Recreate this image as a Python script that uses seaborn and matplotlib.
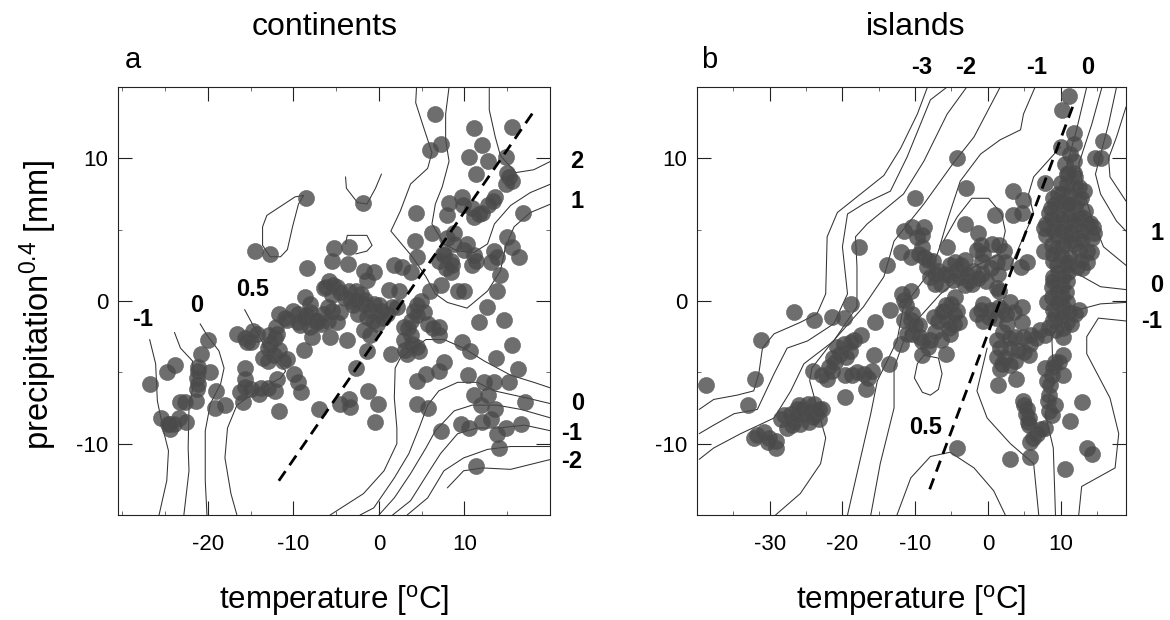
import matplotlib
matplotlib.use('Agg')
import matplotlib.pyplot as plt
import seaborn as sns
from matplotlib.ticker import MultipleLocator

# Values: temperature [C], precipitation^0.4 [mm]
cont_temp = [6.6, 11.1, 15.6, 7.2, 6.0, 12.1, 10.5, 12.7, 14.8, 11.3, 15.2, 14.8, 13.6, 12.7, 11.7, 10.9, 9.7, 8.2, 8.0, 4.3, 16.8,
             -1.9, -8.5, -14.5, -12.7, -3.5, -5.3, -5.5, -3.6, -8.4, 6.2, 8.8, 8.0, 10.3, 4.2, 4.4, 15.0, 15.6, 16.4, 13.4, 13.1,
             11.1, 10.9, 7.6, 7.0, 8.4, 8.4, 1.8, 2.7, 3.7, -1.8, -0.6, -1.4, -5.8, -6.4, -4.9, -2.7, 1.2, 2.3, 6.0, 7.3, 9.2, 9.9,
             14.2, 13.8, 12.6, 11.7, 14.6, 15.5, 9.7, 10.7, 13.7, 16.3, 15.2, 10.4, 12.3, 13.4, 17.1, 11.1, 12.7, 11.9, 13.6, 13.1,
             12.1, 9.6, 10.5, 7.3, 14.8, 13.8, 16.6, 14.0, 11.4, 7.6, 7.0, 5.5, 4.5, 4.5, 5.7,
             4.9, 4.1, 5.3, 2.9, 3.7, 5.7, 7.0, 7.0, 3.7, 3.1, 4.7, 3.9, 1.4, -1.4, -1.8, -1.0, -3.7, -5.7, -7.8, -8.8, -8.6, -8.0,
             -9.4, -8.5, -7.5, -11.7, -10.7, -9.2, -8.0, -6.5, -5.5, -4.5, -4.9, -6.0, -7.2, -3.3, -2.1, -1.8, -0.6, 0.2, -2.5, -1.4,
             -0.2, 1.0, 2.1, -11.9, -12.7, -12.2, -13.6, -12.3, -10.7, -14.2, -16.6, -15.4, -9.9, -9.4, -9.1, -11.9, -12.2, -13.8,
             -15.6, -15.6, -16.2, -15.0, -15.9, -11.7, -7.0, -4.5, -3.5, -3.4, -1.3, -0.1, -0.4, -2.7, -20.0, -20.8, -21.2, -19.7,
             -21.3, -21.3, -21.4, -23.2, -19.1, -19.2, -18.0, -23.8, -24.8, -26.8, -25.5, -23.4, -22.5, -24.4, -24.7]
cont_prec = [13.1, 12.1, 12.2, 11.0, 10.6, 10.9, 10.1, 9.8, 10.1, 8.9, 8.7, 8.2, 7.3, 6.7, 6.1, 6.5, 7.3, 6.9, 6.0, 6.2, 6.2,
             6.9, 7.2, 3.5, 3.3, 3.8, 3.7, 2.8, 2.6, 2.3, 4.8, 4.8, 4.4, 4.0, 4.2, 3.1, 4.5, 3.8, 3.1, 3.5, 2.7,
             3.2, 2.5, 3.2, 2.8, 2.8, 2.0, 2.5, 2.4, 2.0, 2.1, 2.0, 1.5, 1.4, 0.9, 1.0, 0.7, 0.8, 0.7, 0.7, 1.1, 0.7, 0.7,
             1.8, 0.7, -0.4, -1.5, -1.3, -3.1, -2.9, -3.5, -4.0, -4.8, -5.7, -5.2, -5.7, -5.7, -7.1, -6.6, -6.6, -7.3, -7.6, -8.3,
             -8.5, -8.6, -8.9, -9.1, -8.9, -9.3, -8.6, -10.3, -11.6, -4.3, -4.9, -5.1, -5.6, -7.2, -7.5,
             0.0, -0.7, -0.8, -1.8, -1.4, -1.6, -1.8, -2.4, -2.4, -3.4, -3.5, -3.0, -3.7, -3.5, -2.0, -2.4, -2.7, -2.5, -2.5, -3.4, 0.3, -0.2,
             -0.9, -1.0, -1.4, -0.9, -1.3, -1.7, -1.8, -0.9, -0.7, -0.8, -1.5, -1.4, -1.5, 0.0, 0.5, -0.2, -0.2, -0.7, -0.9, -1.1,
             -1.6, -0.9, -0.4, -2.3, -3.0, -2.6, -4.0, -3.8, -4.1, -2.3, -2.3, -2.9, -5.1, -5.7, -6.4, -5.5, -6.3, -6.1,
             -4.7, -5.5, -6.4, -6.2, -7.1, -7.7, -7.6, -7.2, -6.9, -7.4, -6.3, -7.2, -8.5, -4.7, -2.7, -3.7, -4.6, -5.0,
             -5.4, -6.2, -7.0, -7.1, -6.3, -7.5, -7.3, -4.5, -5.0, -5.8, -8.2, -8.2, -8.5, -9.0, -8.6]
# the denser patches of the continents cloud
cont_temp_dense = [-11.0, -10.0, -9.5, -8.8, -8.0, -7.4, -6.8, -6.0, -5.5, -6.2, -5.4, -4.5, -4.0, -3.5, -3.0, -2.7, -1.6, -1.0, 0.0, 0.5,
                   -0.7, 1.5, -12.8, -12.0, -13.0, -11.7, -11.2, -13.0, -15.7, -15.0, -14.7, 4.4, 4.5, 3.4, 2.9, 3.3, 4.4, 6.3, 7.5, 7.8,
                   8.6, 10.0, 11.4, 13.8, 8.8, 9.8, 12.0, 11.1, 13.3, 15.0, 15.5, -15.6, -14.0, -13.0, -21.2, -21.2, -24.5, -23.9, -22.7]
cont_prec_dense = [-1.2, -0.7, -1.5, -1.2, -0.8, -1.3, -1.6, -0.4, 0.4, 1.0, 1.1, 0.6, 0.2, 0.7, -0.3, 0.1, 0.1, -0.6, -0.3, -1.2,
                   -1.4, -0.4, -2.4, -1.8, -3.3, -3.4, -4.2, -4.2, -2.6, -2.9, -2.1, -0.3, -1.0, -1.9, -2.7, -3.7, -3.2, -1.9, 3.3, 2.3,
                   2.5, 3.6, 2.8, 3.1, 4.0, 6.7, 6.2, 5.9, 7.0, 9.0, 8.4, -6.0, -6.5, -6.1, -4.9, -5.8, -8.6, -8.6, -7.1]

isl_temp = [11.1, 10.2, 11.9, 15.9, 15.5, 14.8, -4.2, -3.0, -10.0, -17.7, -13.9, -26.6, -23.9, -21.4, -19.8, -18.8, -31.2, -32.0, -38.7, -33.0,
            -28.5, -27.6, -26.7, -25.9, -27.1, -26.0, -24.8, -25.1, -23.7, -22.8, -23.9, -23.2, -24.6, -26.2,
            -32.2, -30.8, -30.1, -29.2, -29.2,
            -24.0, -22.1, -21.4, -21.0, -20.3, -19.8, -18.9, -18.4, -17.5, -19.6, -16.7, -18.7, -17.1, -15.9, -15.7, -13.6, -15.5, -13.4,
            -12.0, -11.6, -11.8, -10.6, -11.6, -10.6, -11.1, -9.3, -9.0, -5.7, -7.9, -6.5, -5.2, -7.4, -5.6, -4.2, -4.5, -6.0, -4.7,
            -11.6, -10.4, -8.8, -9.7, -9.0, -12.0, -10.6, -8.8, -8.4, -7.9, -7.2, -6.8, -5.2, -4.2, -3.1, -3.8, -2.6, -2.0, -0.8, -1.5, -0.6, 0.6, 2.2, 2.4,
            -5.6, -3.2, -1.3, 1.0, 3.5, 4.7, 3.5, 4.8, 7.9, 5.4, 4.5, 7.7, 9.0,
            1.5, -0.6, -1.5, 0.1, 1.5, 3.1, 4.7, 4.7, 2.6, 3.8, 4.9, 1.7, 2.4, 3.8, 5.6, 5.8, 7.2, 1.7, 1.4, 3.9,
            11.8, 11.3, 10.6, 11.8, 10.9, 12.0, 10.9, 13.2, 9.7, 11.1, 12.2, 9.3, 10.6, 12.0, 13.4, 8.4, 9.7, 11.1, 12.5, 9.3, 10.6, 12.0, 13.6, 7.7,
            14.5, 9.5, 10.9, 12.5, 14.3, 8.8, 10.4, 11.8, 13.6, 10.0, 11.1, 13.6, 9.5, 10.9, 12.2, 9.0, 10.4, 8.8, 10.2, 8.8, 10.2, 8.1, 9.0, 10.4, 9.0, 12.0,
            10.9, 10.4, 8.4, 10.4, 9.3, 7.9, 10.4, 8.8, 8.6, 8.4, 9.3, 8.4, 12.9, 11.3, 7.9, 6.8, 5.8, 5.8, 4.9, 5.4, 5.6, 5.7, 3.1, 10.6, 13.6, 14.3, -4.2]
isl_prec = [14.4, 13.4, 11.8, 11.2, 10.0, 10.0, 10.0, 7.9, 7.2, 3.8, 2.5, -0.8, -1.3, -1.1, -1.2, -0.2, -2.7, -5.5, -5.9, -7.3,
            -8.3, -8.9, -8.4, -8.6, -7.9, -7.3, -7.2, -7.9, -7.9, -7.6, -7.2, -8.3, -8.5, -7.6,
            -9.6, -9.2, -9.6, -9.8, -10.3,
            -4.9, -5.5, -4.9, -4.3, -3.7, -3.0, -3.5, -2.7, -2.4, -6.7, -6.2, -5.2, -5.1, -4.9, -3.8, -4.4, -1.5, -0.6,
            -3.0, -1.3, 0.5, 0.7, 0.1, -1.3, -2.3, -2.5, -3.8, -3.7, -2.7, -2.7, -2.3, -1.1, -1.3, -0.7, 0.3, -0.7, -1.6,
            4.9, 5.2, 5.2, 4.5, 3.8, 3.4, 3.1, 3.1, 2.4, 1.7, 1.2, 2.1, 2.5, 2.2, 2.9, 1.7, 1.4, 2.1, 1.9, 3.6, 3.3, 4.0, 3.5, 2.7,
            3.8, 5.4, 4.8, 6.0, 6.0, 6.2, 7.7, 7.1, 8.3, 2.7, 2.4, 3.5, 2.8,
            0.7, -0.2, -0.9, -1.1, -0.4, -0.1, -0.4, -1.5, -1.6, -2.5, -2.5, -3.3, -4.0, -4.2, -3.8, -3.0, -2.0, -4.8, -5.9, -5.5,
            11.0, 10.3, 9.6, 9.8, 8.9, 8.7, 8.2, 7.7, 7.5, 7.4, 7.0, 6.8, 6.7, 6.6, 6.3, 6.2, 6.0, 6.0, 5.9, 5.4, 5.3, 5.3, 5.4, 5.1,
            5.2, 4.6, 4.6, 4.5, 4.4, 3.9, 3.9, 4.0, 3.5, 3.2, 3.1, 2.7, 2.5, 2.5, 2.4, 1.7, 1.7, 1.0, 1.0, 0.3, 0.3, -0.1, -0.6, -0.4, -1.3, -0.9,
            -1.5, -2.5, -1.8, -3.8, -4.3, -4.7, -5.2, -5.2, -5.9, -6.6, -7.3, -7.7, -7.1, -8.4, -8.9, -9.3, -9.9, -10.9, -7.0, -7.6, -8.2, -8.7, -11.1, -11.8, -10.3, -10.7, -10.3]
# the denser patches of the islands cloud
isl_temp_dense = [10.0, 11.0, 11.8, 10.0, 11.8, 12.5, 10.2, 12.8, 9.0, 10.0, 11.2, 8.7, 13.0, 8.8, 10.2, 11.7, 8.0, 14.0, 9.0, 10.0, 11.3, 12.9, 14.6, 8.0,
                  11.3, 13.0, 9.5, 12.6, 14.2, 9.0, 10.9, 12.8, 13.0, 9.7, 11.0, 9.7, 10.9, 8.9, 9.5, 10.8, 9.5, 10.9, 9.3, 10.0, 11.2, 12.6, 10.3, 11.5, 9.4,
                  7.8, 6.6, 8.9, 9.8, 8.1,
                  -9.0, -9.5, -8.2, -7.6, -7.2, -6.5, -6.0, -5.5, -4.8, -4.5, -3.7, -2.9, -3.2, -2.2, -1.3, -0.3, 0.5, 1.2, -1.0, -0.8, 1.6, 1.2, 1.4,
                  -11.2, -10.4, -10.0, -10.5, -9.4, -9.0, -8.2, -7.2, -6.9, -6.3, -5.8, -5.0, -5.3, -4.6, -4.0, 0.4, 1.1, 2.0, 2.5, 3.6, 2.1, 1.3, 3.0, 2.9,
                  4.2, 5.0, 5.9, 1.2, 3.0, 2.0, -0.7, -1.0,
                  -21.9, -21.3, -20.8, -19.5, -18.8, -22.8, -19.7, -18.0, -16.5, -28.0, -27.0, -26.3, -25.5, -24.4, -24.0, -23.2, -30.3, -31.7,
                  5.0, 5.2, 5.5, 6.2, 7.3, 8.3, 8.8]
isl_prec_dense = [10.8, 9.0, 9.0, 8.3, 8.0, 8.0, 7.6, 7.2, 7.2, 7.0, 6.8, 6.5, 5.9, 5.8, 5.8, 5.7, 5.4, 5.5, 5.0, 4.9, 4.9, 5.0, 4.8, 4.6,
                  4.2, 4.3, 3.8, 3.6, 3.4, 3.3, 2.7, 2.9, 2.3, 2.0, 2.0, 1.3, 1.4, 1.4, 0.7, 0.6, -0.1, -0.1, -1.0, -1.1, -0.8, -0.6, -1.9, -1.6, -2.0,
                  -2.4, -2.6, -4.6, -4.3, -5.6,
                  4.6, 3.3, 2.9, 2.8, 1.9, 1.2, 1.9, 1.8, 1.5, 2.7, 2.5, 1.9, 1.1, 1.2, 1.6, 1.4, 2.3, 2.7, 3.9, 2.8, 3.9, 0.9, 1.9,
                  -0.3, -0.9, -1.7, -2.3, -1.7, -2.8, -3.2, -2.2, -1.4, -0.8, -0.3, -0.2, -1.9, -0.9, -1.5, -0.6, -1.2, -0.6, -0.9, -0.8, -2.2, -2.7, -3.3, -2.6,
                  -3.4, -3.6, -2.4, -3.9, -4.5, -4.4, -1.4, -0.6,
                  -4.6, -4.0, -3.2, -3.9, -2.9, -5.2, -5.2, -5.0, -5.4, -8.0, -8.7, -8.0, -7.6, -7.7, -8.1, -7.6, -9.9, -9.4,
                  -7.3, -7.9, -8.5, -9.6, -9.0, -7.0, -8.0]

# contour lines, one list per line
cont_line_t = [
    [-26.8, -26.1, -25.9, -25.1, -24.6, -24.8, -25.7],
    [-23.9, -23.2, -21.8, -21.6, -22.2, -22.3, -22.2, -22.8],
    [-20.9, -20.1, -18.7, -18.1, -18.5, -19.7, -20.3, -20.3, -20.1],
    [-15.7, -14.8, -13.5, -12.3, -10.9, -11.5, -14.2, -16.6, -17.7, -18.0, -17.3, -16.6],
    [-8.8, -9.8, -13.1, -13.6, -13.6, -12.7, -11.5, -10.7, -10.1, -9.4, -8.8],
    [-3.9, -3.8, -2.5, -1.4, -0.4, 0.3],
    [-3.9, -3.7, -1.4, -0.8, -1.4, -2.7],
    [12.9, 12.9, 13.6, 14.2, 16.0, 18.1, 20.1],
    [8.2, 7.8, 7.8, 8.2, 7.4, 6.6, 6.2, 7.6, 9.2, 11.1, 12.7, 13.5, 15.4, 17.7, 20.1],
    [20.1, 17.7, 15.8, 14.8, 14.2, 12.7, 10.3, 8.0, 6.6, 5.5, 3.9, 1.4, 2.5, 3.7, 5.7, 6.2, 5.1, 4.3, 4.4],
    [20.1, 18.1, 15.4, 12.3, 9.9, 7.6, 5.5, 2.5, 1.9, 1.8, 2.1, 2.1, 0.6, -1.8, -5.7],
    [20.1, 17.3, 13.5, 11.5, 9.2, 7.0, 5.7, 4.7, 3.5, 1.8, -0.6, -2.2],
    [20.1, 16.6, 13.8, 10.9, 8.8, 6.6, 5.5, 3.7, 1.8, 0.0],
    [20.1, 17.0, 14.0, 11.5, 9.2, 7.2, 5.7, 3.7, 1.6],
    [20.1, 15.4, 12.7, 9.9, 7.6, 5.7, 3.3],
    [20.1, 15.4, 12.1, 9.9, 8.0],
]
cont_line_p = [
    [-2.7, -4.4, -7.0, -9.3, -10.5, -12.6, -15.0],
    [-2.2, -3.3, -4.2, -5.6, -7.5, -10.3, -11.9, -15.0],
    [-1.6, -2.4, -3.5, -4.7, -5.8, -7.2, -9.1, -12.6, -15.0],
    [-0.6, -1.6, -3.0, -4.0, -4.9, -5.4, -6.3, -7.3, -8.9, -11.0, -13.5, -15.0],
    [7.4, 7.3, 6.0, 5.2, 3.9, 3.1, 3.1, 3.6, 5.2, 6.8, 7.4],
    [8.7, 7.9, 6.9, 6.8, 7.9, 8.9],
    [4.0, 4.6, 4.6, 3.9, 3.5, 3.3],
    [14.9, 13.4, 11.5, 10.2, 9.0, 9.2, 9.8],
    [15.0, 13.1, 11.3, 9.8, 8.0, 6.8, 5.4, 4.0, 3.5, 3.4, 4.0, 5.4, 6.7, 7.6, 8.2],
    [6.8, 6.2, 5.2, 3.8, 2.1, 0.7, -0.5, -0.1, 0.5, 1.7, 3.1, 4.9, 6.3, 8.2, 9.3, 10.4, 12.4, 13.9, 15.0],
    [-6.1, -5.7, -5.2, -4.2, -3.3, -2.7, -2.7, -4.0, -4.7, -6.8, -8.9, -10.0, -11.9, -13.5, -15.0],
    [-7.2, -6.8, -6.3, -5.7, -5.7, -6.3, -7.3, -8.9, -10.7, -12.4, -14.5, -15.0],
    [-8.2, -7.6, -7.3, -7.3, -7.7, -9.1, -10.3, -12.1, -13.8, -15.0],
    [-9.1, -8.7, -8.9, -8.9, -9.3, -10.7, -12.1, -14.0, -15.0],
    [-10.2, -10.2, -10.4, -11.0, -11.9, -13.8, -15.0],
    [-11.1, -11.8, -11.7, -11.9, -13.1],
]
isl_line_t = [
    [-39.7, -37.7, -34.5, -32.2, -31.5, -31.0, -29.4, -25.8, -23.5, -22.3, -22.1, -20.7, -17.5, -14.3, -12.0, -9.7, -8.3],
    [-39.7, -37.7, -34.9, -31.7, -29.4, -27.6, -24.8, -21.2, -19.3, -20.0, -19.3, -17.1, -13.4, -11.1, -7.9, -5.6],
    [-39.7, -37.7, -34.0, -29.4, -27.1, -25.3, -21.2, -18.0, -18.0, -18.2, -16.6, -11.6, -8.8, -5.6, -2.9],
    [-29.2, -25.8, -23.0, -22.3, -24.5, -24.2, -21.6, -17.1, -14.3, -12.9, -8.8, -4.7, -1.9, 1.7],
    [6.5, 4.9, 4.5, 1.7, -1.0, -3.8, -5.6, -6.8, -7.9, -11.6, -12.5, -15.2, -16.1, -18.0, -19.3],
    [-16.1, -14.8, -12.9, -12.9, -11.1, -6.5, -1.9, 1.7, 2.4, 1.9, 0.1, -2.2, -4.2, -6.1],
    [-12.5, -10.6, -7.9, -5.2, -1.9, 0.8, 2.4],
    [-8.8, -6.8, -6.3, -6.8, -7.9, -9.0, -10.1, -9.7, -8.8],
    [7.0, 6.3, 3.1, -0.1, -1.5, -0.1],
    [13.6, 12.2, 10.9, 10.6, 10.6, 10.9, 8.8, 9.0, 7.9, 9.0, 9.3],
    [15.7, 14.3, 12.5, 13.2, 14.1, 15.9, 19.0],
    [17.7, 16.6, 14.8, 15.5, 17.7, 19.0],
    [19.0, 17.7, 16.6, 16.8, 19.0],
    [12.7, 15.5, 19.0],
    [19.0, 15.5, 11.8, 9.5],
    [19.0, 15.2, 13.6, 13.6, 16.8, 18.0, 17.5, 12.9, 12.5],
    [10.0, 6.3, 5.6, 6.3, 4.9, 3.1],
]
isl_line_p = [
    [-7.6, -6.9, -6.6, -6.3, -5.1, -3.3, -2.3, -1.5, -0.9, 0.5, 4.5, 6.2, 7.5, 8.8, 10.7, 13.1, 15.0],
    [-9.3, -8.7, -7.9, -7.6, -5.1, -3.3, -2.8, -1.6, 0.5, 3.8, 6.1, 6.8, 7.7, 10.1, 14.1, 15.0],
    [-11.1, -10.3, -9.3, -8.2, -6.3, -4.4, -2.8, -0.4, 2.4, 4.5, 5.4, 7.5, 9.8, 13.1, 15.0],
    [-15.0, -13.5, -11.4, -9.6, -5.6, -4.7, -3.0, -0.4, 1.7, 4.2, 6.8, 9.7, 11.5, 15.0],
    [15.0, 13.1, 12.0, 11.3, 10.3, 8.4, 5.6, 3.5, 2.1, -0.4, -2.8, -5.6, -7.9, -12.1, -15.0],
    [-15.0, -11.4, -7.5, -4.7, -2.1, 0.5, 2.4, 3.3, 4.9, 6.1, 7.2, 7.2, 5.9, 4.2],
    [-15.0, -12.4, -10.9, -10.6, -11.7, -13.3, -15.0],
    [-3.8, -4.0, -5.1, -6.2, -6.6, -6.4, -5.4, -4.4, -3.8],
    [-15.0, -11.4, -10.0, -8.2, -6.3, -3.3],
    [15.0, 12.0, 9.6, 6.1, 2.6, -0.9, -2.5, -5.6, -7.9, -10.3, -15.0],
    [15.0, 12.4, 9.6, 7.7, 6.1, 3.8, 2.5],
    [15.0, 12.4, 8.9, 7.5, 5.6, 4.9],
    [13.6, 11.5, 10.0, 8.7, 7.0],
    [1.8, 1.0, 0.8],
    [-0.1, -0.2, -0.7, -1.8],
    [-1.4, -1.2, -2.5, -3.7, -6.8, -9.3, -11.7, -13.0, -15.0],
    [10.8, 8.7, 7.5, 6.1, 4.5, 2.4],
]

# dashed trend lines
cont_trend_t = [-11.7, 18.0]
cont_trend_p = [-12.6, 13.2]
isl_trend_t = [-8.0, 11.8]
isl_trend_p = [-13.2, 13.8]

x_ticks_cont = [-20, -10, 0, 10]
x_ticks_isl = [-30, -20, -10, 0, 10]
y_ticks = [-10, 0, 10]

sns.set_style("ticks")
plt.rcParams['font.family'] = ['Liberation Sans', 'DejaVu Sans']
plt.rcParams['mathtext.default'] = 'regular'
plt.rcParams['axes.unicode_minus'] = False
plt.rcParams['text.color'] = 'black'
plt.rcParams['axes.labelcolor'] = 'black'
plt.rcParams['xtick.labelcolor'] = 'black'
plt.rcParams['ytick.labelcolor'] = 'black'


def draw_panel(ax, temp, prec, line_t, line_p, trend_t, trend_p, xlim, xticks):
    # contours go under the dots
    for t, p in zip(line_t, line_p):
        sns.lineplot(x=t, y=p, ax=ax, sort=False, estimator=None, color='#333333', lw=0.75, zorder=1)
    sns.scatterplot(x=temp, y=prec, ax=ax, s=135, color='#4a4a4a', alpha=0.8, edgecolor='#555555',
                    linewidth=0.4, zorder=2, clip_on=False)
    sns.lineplot(x=trend_t, y=trend_p, ax=ax, sort=False, estimator=None, color='black', lw=2,
                 dashes=(4.2, 2.6), zorder=3)
    ax.set_xlim(*xlim)
    ax.set_ylim(-15, 15)
    ax.set_xticks(xticks)
    ax.set_yticks(y_ticks)
    ax.xaxis.set_minor_locator(MultipleLocator(5))
    ax.yaxis.set_minor_locator(MultipleLocator(5))
    ax.tick_params(which='major', direction='in', top=True, right=True, length=10, width=0.8,
                   labelsize=16, color='#222222')
    ax.tick_params(axis='x', which='major', pad=14)
    ax.tick_params(axis='y', which='major', pad=7)
    ax.tick_params(which='minor', direction='in', top=True, right=True, length=3, width=0.6, color='#555555')
    ax.set_xlabel('temperature [$^{o}$C]', fontsize=22.5, labelpad=19.5)
    for s in ax.spines.values():
        s.set_linewidth(0.8)
        s.set_color('#222222')


fig = plt.figure(figsize=(11.7, 6.2), dpi=100)
ax1 = fig.add_axes([118 / 1170, 1 - 515 / 620, 432 / 1170, 428 / 620])
ax2 = fig.add_axes([697 / 1170, 1 - 515 / 620, 429 / 1170, 428 / 620])

draw_panel(ax1, cont_temp + cont_temp_dense, cont_prec + cont_prec_dense, cont_line_t, cont_line_p,
           cont_trend_t, cont_trend_p, (-30.5, 20), x_ticks_cont)
draw_panel(ax2, isl_temp + isl_temp_dense, isl_prec + isl_prec_dense, isl_line_t, isl_line_p,
           isl_trend_t, isl_trend_p, (-40, 19), x_ticks_isl)

ax1.set_ylabel('precipitation$^{0.4}$ [mm]', fontsize=23.5, labelpad=12.5, y=0.49)


# titles, panel letters and contour labels, placed in figure pixels
def label(px, py, text, **kw):
    fig.text(px / 1170, 1 - py / 620, text, ha='center', va='center', **kw)


label(325, 27, 'continents', fontsize=23)
label(916, 27, 'islands', fontsize=23)
label(133, 60, 'a', fontsize=21)
label(709, 60, 'b', fontsize=21)
cont_labels = [(143, 319, '-1'), (197, 305, '0'), (253, 290, '0.5'), (577, 161, '2'), (577, 201, '1'),
               (578, 404, '0'), (572, 433, '-1'), (572, 462, '-2')]
isl_labels = [(922, 67, '-3'), (966, 67, '-2'), (1037, 67, '-1'), (1088, 67, '0'), (1157, 234, '1'),
              (1157, 286, '0'), (1152, 321, '-1'), (926, 428, '0.5')]
for px, py, text in cont_labels + isl_labels:
    label(px, py, text, fontsize=17, fontweight='bold')

plt.savefig('out.png', dpi=100)
plt.close()
